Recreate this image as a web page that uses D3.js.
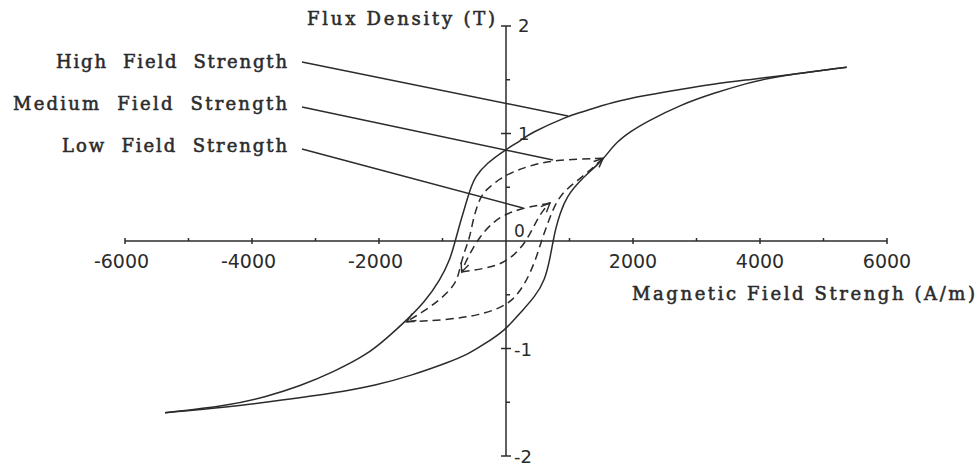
<!DOCTYPE html>
<html>
<head>
<meta charset="utf-8">
<script src="https://cdn.jsdelivr.net/npm/d3@7"></script>
<style>
  html, body { margin: 0; padding: 0; background: #ffffff; }
  svg { display: block; }
  .lbl { font-family: "DejaVu Serif", serif; font-size: 18px; fill: #2b2b2b; stroke: #2b2b2b; stroke-width: 0.55px; white-space: pre; }
  .num { font-family: "DejaVu Sans", sans-serif; fill: #2b2b2b; }
</style>
</head>
<body>
<svg id="chart" width="978" height="468"></svg>
<script>
// Hysteresis loops of a ferromagnetic core: [H (A/m), B (T)]
const highDescending = [
  [5365, 1.616], [4209, 1.528], [3791, 1.498], [3265, 1.460], [2740, 1.411],
  [2216, 1.358], [1690, 1.296], [1165, 1.193], [976, 1.163], [378, 1.002],
  [247, 0.940], [-16, 0.847], [-304, 0.723], [-488, 0.598], [-567, 0.474],
  [-646, 0.319], [-724, 0.165], [-795, 0.009], [-882, -0.177], [-1039, -0.363],
  [-1276, -0.565], [-1591, -0.751], [-1874, -0.902], [-2194, -1.060],
  [-2724, -1.220], [-3244, -1.350], [-3768, -1.448], [-4398, -1.535], [-5370, -1.597]
];
const highAscending = [
  [-5370, -1.597], [-4398, -1.547], [-3512, -1.479], [-2724, -1.417], [-2036, -1.340],
  [-1512, -1.256], [-882, -1.123], [-619, -1.060], [-362, -0.967], [-16, -0.834],
  [220, -0.670], [457, -0.518], [614, -0.363], [693, -0.160],
  [745, 0.009], [780, 0.110], [850, 0.258], [956, 0.412], [1165, 0.567],
  [1532, 0.753], [1690, 0.893], [1953, 1.017], [2216, 1.110], [2740, 1.265],
  [3265, 1.374], [3791, 1.467], [4209, 1.528], [5365, 1.616]
];
const mediumDescending = [
  [1528, 0.769], [740, 0.753], [425, 0.707], [169, 0.660], [-94, 0.583],
  [-252, 0.505], [-362, 0.447], [-441, 0.353], [-520, 0.195], [-567, 0.040],
  [-646, -0.084], [-724, -0.239], [-776, -0.393], [-1039, -0.549],
  [-1307, -0.658], [-1564, -0.751]
];
const mediumAscending = [
  [-1564, -0.751], [-934, -0.735], [-409, -0.688], [-94, -0.623], [110, -0.549],
  [268, -0.425], [378, -0.300], [483, -0.146], [562, 0.009], [693, 0.226],
  [850, 0.444], [1213, 0.598], [1528, 0.769]
];
const lowDescending = [
  [693, 0.353], [268, 0.307], [-47, 0.242], [-252, 0.149], [-409, 0.040],
  [-540, -0.084], [-646, -0.207], [-698, -0.288]
];
const lowAscending = [
  [-698, -0.288], [-304, -0.254], [-47, -0.207], [189, -0.102], [346, 0.028],
  [472, 0.177], [583, 0.288], [693, 0.353]
];

// Callout labels and the curve points they point to
const calloutLabels = ["High  Field  Strength", "Medium  Field  Strength", "Low  Field  Strength"];
const calloutTargets = [[976, 1.163], [740, 0.753], [268, 0.307]];

// Axis ticks
const xTickValues = [-6000, -4000, -2000, 2000, 4000, 6000];
const xMinorTicks = [-5000, -3000, -1000, 1000, 3000, 5000];
const yTickValues = [2, 1, -1, -2];
const yMinorTicks = [1.5, 0.5, -0.5, -1.5];
const xTitle = "Magnetic Field Strengh (A/m)";
const yTitle = "Flux Density (T)";

const ink = "#2b2b2b";
const svg = d3.select("#chart");

const x = d3.scaleLinear().domain([-6000, 6000]).range([125, 887]);
const y = d3.scaleLinear().domain([-2, 2]).range([456, 26]);
const x0 = x(0), y0 = y(0);

// open arrowhead for the minor loops
svg.append("defs").append("marker")
  .attr("id", "arrow")
  .attr("viewBox", "-11 -6 13 12")
  .attr("refX", 0).attr("refY", 0)
  .attr("markerWidth", 13).attr("markerHeight", 12)
  .attr("markerUnits", "userSpaceOnUse")
  .attr("orient", "auto")
  .append("path")
  .attr("d", "M-9,-4L0,0L-9,4")
  .attr("fill", "none")
  .attr("stroke", ink)
  .attr("stroke-width", 1.4);

// Axes through the origin
const axes = svg.append("g").attr("stroke", ink).attr("stroke-width", 1.5);
axes.append("line").attr("x1", x(-6000)).attr("x2", x(6000)).attr("y1", y0).attr("y2", y0);
axes.append("line").attr("x1", x0).attr("x2", x0).attr("y1", y(2)).attr("y2", y(-2));

axes.selectAll(".xmaj").data(xTickValues).join("line")
  .attr("x1", d => x(d)).attr("x2", d => x(d)).attr("y1", y0 - 3).attr("y2", y0 + 3);
axes.selectAll(".xmin").data(xMinorTicks).join("line")
  .attr("x1", d => x(d)).attr("x2", d => x(d)).attr("y1", y0 - 3).attr("y2", y0);
axes.selectAll(".ymaj").data(yTickValues).join("line")
  .attr("x1", x0 - 5).attr("x2", x0 + 5).attr("y1", d => y(d)).attr("y2", d => y(d));
axes.selectAll(".ymin").data(yMinorTicks).join("line")
  .attr("x1", x0).attr("x2", x0 + 4).attr("y1", d => y(d)).attr("y2", d => y(d));

// Tick labels
svg.append("g").selectAll("text").data(xTickValues).join("text")
  .attr("class", "num")
  .attr("font-size", 19)
  .attr("text-anchor", "middle")
  .attr("x", d => x(d) + (d < 0 ? -3.5 : 0))
  .attr("y", y0 + 27)
  .text(d => d);

svg.append("g").selectAll("text").data(yTickValues).join("text")
  .attr("class", "num")
  .attr("font-size", 18)
  .attr("x", d => x0 + (d < 0 ? 8 : 12))
  .attr("y", d => y(d) + (d < 0 ? 7 : 6))
  .text(d => d);

svg.append("text").attr("class", "num").attr("font-size", 17)
  .attr("x", x0 + 8).attr("y", y0 - 4).text("0");

// Loops
const line = d3.line()
  .x(d => x(d[0]))
  .y(d => y(d[1]))
  .curve(d3.curveBasis);

const curves = svg.append("g").attr("fill", "none").attr("stroke", ink).attr("stroke-width", 1.5);
[highDescending, highAscending].forEach(s => curves.append("path").attr("d", line(s)));
[mediumDescending, mediumAscending, lowDescending, lowAscending].forEach(s =>
  curves.append("path")
    .attr("d", line(s))
    .attr("stroke-dasharray", "8,5")
    .attr("marker-end", "url(#arrow)")
);

// Callouts
const labelRight = 287;
const labelBaselines = [68, 110, 152];
const labelLengths = [231, 274, 225];
const leaderStarts = [[302, 62], [302, 107], [302, 149]];

calloutLabels.forEach((t, i) => {
  svg.append("text").attr("class", "lbl")
    .attr("x", labelRight).attr("y", labelBaselines[i])
    .attr("text-anchor", "end")
    .attr("textLength", labelLengths[i]).attr("lengthAdjust", "spacing")
    .text(t);
  svg.append("line")
    .attr("x1", leaderStarts[i][0]).attr("y1", leaderStarts[i][1])
    .attr("x2", x(calloutTargets[i][0])).attr("y2", y(calloutTargets[i][1]))
    .attr("stroke", ink).attr("stroke-width", 1.4);
});

// Axis titles
svg.append("text").attr("class", "lbl")
  .attr("x", 495).attr("y", 25).attr("text-anchor", "end")
  .attr("textLength", 188).attr("lengthAdjust", "spacing")
  .text(yTitle);
svg.append("text").attr("class", "lbl")
  .attr("x", 632).attr("y", 300)
  .attr("textLength", 343).attr("lengthAdjust", "spacing")
  .text(xTitle);
</script>
</body>
</html>
